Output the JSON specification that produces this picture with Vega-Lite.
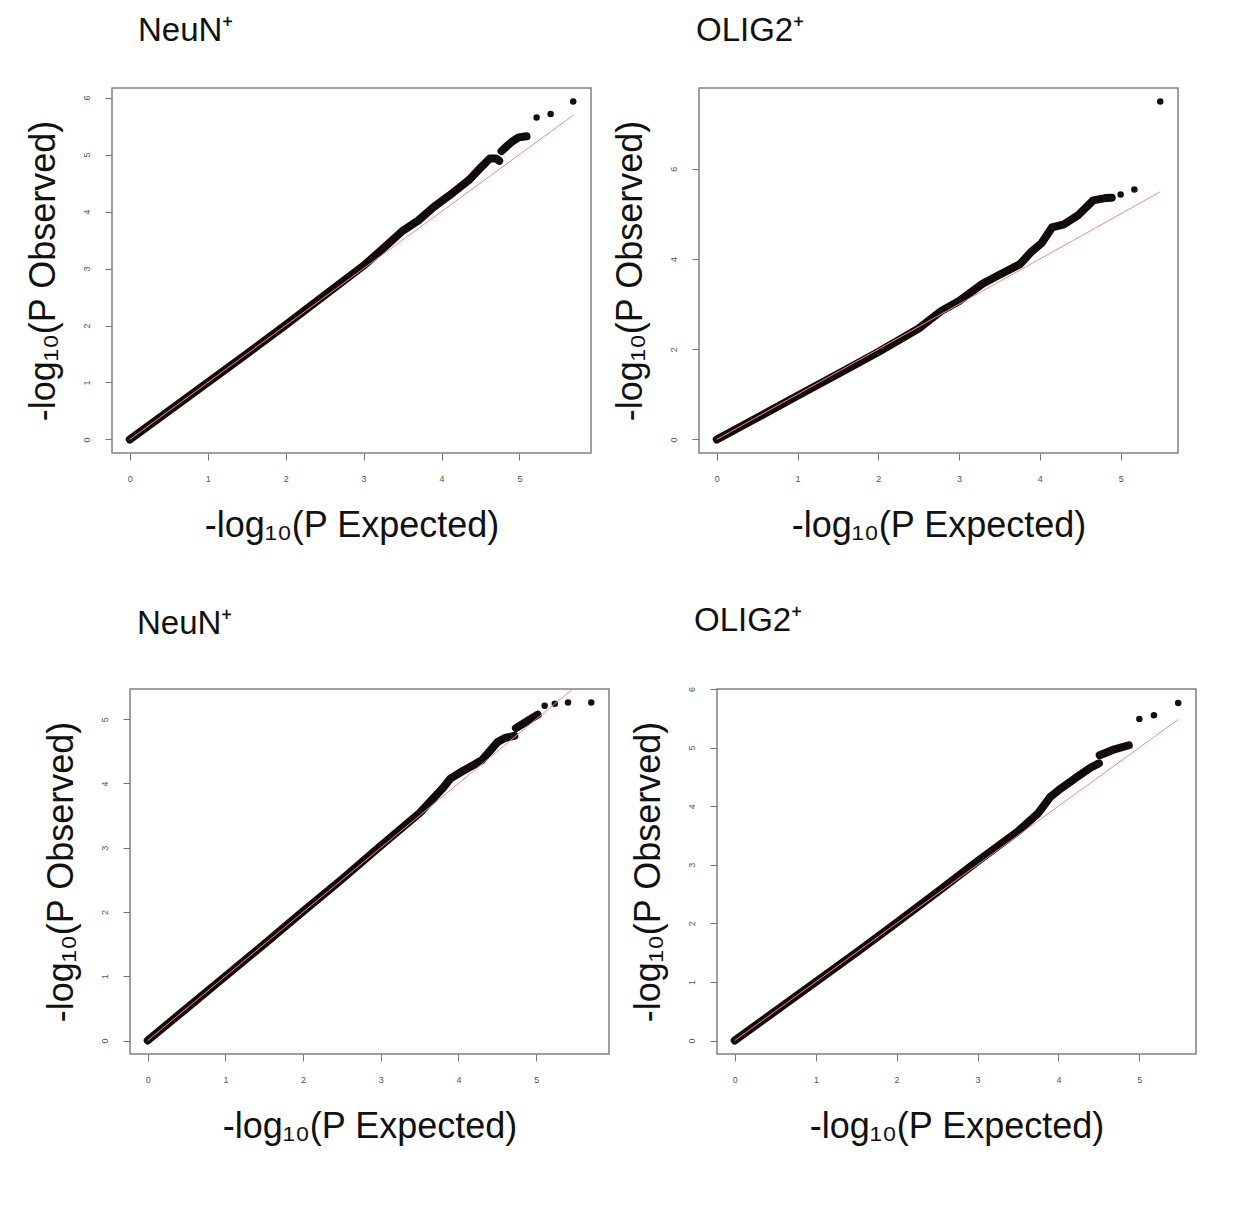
{
  "$schema": "https://vega.github.io/schema/vega-lite/v6.json",
  "background": "white",
  "padding": {"left": 4, "top": 14, "right": 5, "bottom": 5},
  "config": {
    "font": "Liberation Sans",
    "view": {"stroke": "#808080", "strokeWidth": 1.5},
    "axis": {"domain": false, "grid": false, "tickColor": "#777777", "tickSize": 7, "tickWidth": 1, "labelColor": "#555555", "labelFontSize": 9, "labelPadding": 14, "labelFont": "Liberation Sans", "titleFont": "Liberation Sans", "titleFontSize": 36, "titleFontWeight": "normal", "titleColor": "#111111", "titlePadding": 22},
    "axisX": {"titlePadding": 25},
    "axisY": {"labelAngle": 270, "titlePadding": 20},
    "title": {"font": "Liberation Sans", "fontSize": 33, "fontWeight": "normal", "color": "#111111", "anchor": "start", "frame": "group"}
  },
  "datasets": {
    "p1": [
      {"k": "b", "s": 1, "x": 0, "y": 0}, {"k": "b", "s": 1, "x": 0.5, "y": 0.5}, {"k": "b", "s": 1, "x": 1.0, "y": 1.0}, {"k": "b", "s": 1, "x": 1.5, "y": 1.5}, {"k": "b", "s": 1, "x": 2.0, "y": 2.01}, {"k": "b", "s": 1, "x": 2.5, "y": 2.53}, {"k": "b", "s": 1, "x": 3.0, "y": 3.05}, {"k": "b", "s": 1, "x": 3.25, "y": 3.35}, {"k": "b", "s": 1, "x": 3.5, "y": 3.66}, {"k": "b", "s": 1, "x": 3.7, "y": 3.84}, {"k": "b", "s": 1, "x": 3.9, "y": 4.08}, {"k": "b", "s": 1, "x": 4.1, "y": 4.28}, {"k": "b", "s": 1, "x": 4.35, "y": 4.55}, {"k": "b", "s": 1, "x": 4.51, "y": 4.78}, {"k": "b", "s": 1, "x": 4.62, "y": 4.93}, {"k": "b", "s": 1, "x": 4.7, "y": 4.93}, {"k": "b", "s": 1, "x": 4.74, "y": 4.89},
      {"k": "b", "s": 2, "x": 4.77, "y": 5.06}, {"k": "b", "s": 2, "x": 4.84, "y": 5.15}, {"k": "b", "s": 2, "x": 4.9, "y": 5.22}, {"k": "b", "s": 2, "x": 4.99, "y": 5.3}, {"k": "b", "s": 2, "x": 5.09, "y": 5.32},
      {"k": "p", "s": 3, "x": 5.22, "y": 5.65}, {"k": "p", "s": 3, "x": 5.4, "y": 5.71}, {"k": "p", "s": 3, "x": 5.69, "y": 5.93},
      {"k": "r", "s": 0, "x": 0, "y": 0}, {"k": "r", "s": 0, "x": 5.69, "y": 5.69}
    ],
    "p2": [
      {"k": "b", "s": 1, "x": 0, "y": 0}, {"k": "b", "s": 1, "x": 0.5, "y": 0.48}, {"k": "b", "s": 1, "x": 1.0, "y": 0.97}, {"k": "b", "s": 1, "x": 1.5, "y": 1.45}, {"k": "b", "s": 1, "x": 2.0, "y": 1.94}, {"k": "b", "s": 1, "x": 2.5, "y": 2.46}, {"k": "b", "s": 1, "x": 2.78, "y": 2.85}, {"k": "b", "s": 1, "x": 3.0, "y": 3.07}, {"k": "b", "s": 1, "x": 3.29, "y": 3.45}, {"k": "b", "s": 1, "x": 3.5, "y": 3.65}, {"k": "b", "s": 1, "x": 3.75, "y": 3.88}, {"k": "b", "s": 1, "x": 3.9, "y": 4.17}, {"k": "b", "s": 1, "x": 4.02, "y": 4.35}, {"k": "b", "s": 1, "x": 4.15, "y": 4.7}, {"k": "b", "s": 1, "x": 4.3, "y": 4.77}, {"k": "b", "s": 1, "x": 4.48, "y": 4.98}, {"k": "b", "s": 1, "x": 4.66, "y": 5.3}, {"k": "b", "s": 1, "x": 4.81, "y": 5.35}, {"k": "b", "s": 1, "x": 4.89, "y": 5.36},
      {"k": "p", "s": 3, "x": 5.0, "y": 5.43}, {"k": "p", "s": 3, "x": 5.17, "y": 5.54}, {"k": "p", "s": 3, "x": 5.49, "y": 7.49},
      {"k": "r", "s": 0, "x": 0, "y": 0}, {"k": "r", "s": 0, "x": 5.49, "y": 5.49}
    ],
    "p3": [
      {"k": "b", "s": 1, "x": 0, "y": 0}, {"k": "b", "s": 1, "x": 0.5, "y": 0.5}, {"k": "b", "s": 1, "x": 1.0, "y": 1.0}, {"k": "b", "s": 1, "x": 1.5, "y": 1.5}, {"k": "b", "s": 1, "x": 2.0, "y": 2.01}, {"k": "b", "s": 1, "x": 2.5, "y": 2.51}, {"k": "b", "s": 1, "x": 3.0, "y": 3.03}, {"k": "b", "s": 1, "x": 3.5, "y": 3.54}, {"k": "b", "s": 1, "x": 3.8, "y": 3.93}, {"k": "b", "s": 1, "x": 3.9, "y": 4.08}, {"k": "b", "s": 1, "x": 4.05, "y": 4.19}, {"k": "b", "s": 1, "x": 4.2, "y": 4.29}, {"k": "b", "s": 1, "x": 4.3, "y": 4.36}, {"k": "b", "s": 1, "x": 4.4, "y": 4.5}, {"k": "b", "s": 1, "x": 4.5, "y": 4.64}, {"k": "b", "s": 1, "x": 4.6, "y": 4.71}, {"k": "b", "s": 1, "x": 4.72, "y": 4.74},
      {"k": "b", "s": 2, "x": 4.74, "y": 4.86}, {"k": "b", "s": 2, "x": 4.87, "y": 4.96}, {"k": "b", "s": 2, "x": 5.02, "y": 5.07},
      {"k": "p", "s": 3, "x": 5.11, "y": 5.21}, {"k": "p", "s": 3, "x": 5.24, "y": 5.24}, {"k": "p", "s": 3, "x": 5.41, "y": 5.26}, {"k": "p", "s": 3, "x": 5.71, "y": 5.26},
      {"k": "r", "s": 0, "x": 0, "y": 0}, {"k": "r", "s": 0, "x": 5.71, "y": 5.71}
    ],
    "p4": [
      {"k": "b", "s": 1, "x": 0, "y": 0}, {"k": "b", "s": 1, "x": 0.5, "y": 0.5}, {"k": "b", "s": 1, "x": 1.0, "y": 1.0}, {"k": "b", "s": 1, "x": 1.5, "y": 1.5}, {"k": "b", "s": 1, "x": 2.0, "y": 2.01}, {"k": "b", "s": 1, "x": 2.5, "y": 2.53}, {"k": "b", "s": 1, "x": 3.0, "y": 3.06}, {"k": "b", "s": 1, "x": 3.5, "y": 3.57}, {"k": "b", "s": 1, "x": 3.75, "y": 3.88}, {"k": "b", "s": 1, "x": 3.9, "y": 4.16}, {"k": "b", "s": 1, "x": 4.0, "y": 4.27}, {"k": "b", "s": 1, "x": 4.2, "y": 4.47}, {"k": "b", "s": 1, "x": 4.4, "y": 4.66}, {"k": "b", "s": 1, "x": 4.5, "y": 4.73},
      {"k": "b", "s": 2, "x": 4.51, "y": 4.87}, {"k": "b", "s": 2, "x": 4.67, "y": 4.96}, {"k": "b", "s": 2, "x": 4.87, "y": 5.04},
      {"k": "p", "s": 3, "x": 5.0, "y": 5.49}, {"k": "p", "s": 3, "x": 5.18, "y": 5.55}, {"k": "p", "s": 3, "x": 5.48, "y": 5.76},
      {"k": "r", "s": 0, "x": 0, "y": 0}, {"k": "r", "s": 0, "x": 5.48, "y": 5.48}
    ]
  },
  "spacing": 60,
  "vconcat": [
    {
      "spacing": 19,
      "hconcat": [
        {
          "width": 1, "height": 1,
          "data": {"values": []},
          "mark": {"type": "point", "opacity": 0},
          "view": {"stroke": null}
        },
        {
          "width": 479, "height": 365,
          "title": {"text": "NeuN⁺", "dx": 26, "offset": 40},
          "data": {"name": "p1"},
          "encoding": {
            "x": {"field": "x", "type": "quantitative", "scale": {"domain": [-0.228, 5.918], "nice": false, "zero": false}, "axis": {"values": [0, 1, 2, 3, 4, 5]}, "title": "-log₁₀(P Expected)"},
            "y": {"field": "y", "type": "quantitative", "scale": {"domain": [-0.237, 6.167], "nice": false, "zero": false}, "axis": {"values": [0, 1, 2, 3, 4, 5, 6]}, "title": "-log₁₀(P Observed)"}
          },
          "layer": [
            {"transform": [{"filter": "datum.k == 'b'"}], "mark": {"type": "line", "strokeWidth": 8, "strokeCap": "round", "strokeJoin": "round", "color": "#140909", "clip": true}, "encoding": {"detail": {"field": "s"}}},
            {"transform": [{"filter": "datum.k != 'r'"}], "mark": {"type": "circle", "size": 42, "color": "#111111", "opacity": 1, "clip": true}, "encoding": {}},
            {"transform": [{"filter": "datum.k == 'r'"}], "mark": {"type": "line", "strokeWidth": 1, "color": "#ee8a8a", "clip": true}, "encoding": {}}
          ]
        },
        {
          "width": 479, "height": 365,
          "title": {"text": "OLIG2⁺", "dx": -3, "offset": 40},
          "data": {"name": "p2"},
          "encoding": {
            "x": {"field": "x", "type": "quantitative", "scale": {"domain": [-0.22, 5.71], "nice": false, "zero": false}, "axis": {"values": [0, 1, 2, 3, 4, 5]}, "title": "-log₁₀(P Expected)"},
            "y": {"field": "y", "type": "quantitative", "scale": {"domain": [-0.3, 7.79], "nice": false, "zero": false}, "axis": {"values": [0, 2, 4, 6]}, "title": "-log₁₀(P Observed)"}
          },
          "layer": [
            {"transform": [{"filter": "datum.k == 'b'"}], "mark": {"type": "line", "strokeWidth": 8, "strokeCap": "round", "strokeJoin": "round", "color": "#140909", "clip": true}, "encoding": {"detail": {"field": "s"}}},
            {"transform": [{"filter": "datum.k != 'r'"}], "mark": {"type": "circle", "size": 42, "color": "#111111", "opacity": 1, "clip": true}, "encoding": {}},
            {"transform": [{"filter": "datum.k == 'r'"}], "mark": {"type": "line", "strokeWidth": 1, "color": "#ee8a8a", "clip": true}, "encoding": {}}
          ]
        }
      ]
    },
    {
      "spacing": 19,
      "hconcat": [
        {
          "width": 19, "height": 1,
          "data": {"values": []},
          "mark": {"type": "point", "opacity": 0},
          "view": {"stroke": null}
        },
        {
          "width": 479, "height": 365,
          "title": {"text": "NeuN⁺", "dx": 7, "offset": 48},
          "data": {"name": "p3"},
          "encoding": {
            "x": {"field": "x", "type": "quantitative", "scale": {"domain": [-0.228, 5.938], "nice": false, "zero": false}, "axis": {"values": [0, 1, 2, 3, 4, 5]}, "title": "-log₁₀(P Expected)"},
            "y": {"field": "y", "type": "quantitative", "scale": {"domain": [-0.21, 5.47], "nice": false, "zero": false}, "axis": {"values": [0, 1, 2, 3, 4, 5]}, "title": "-log₁₀(P Observed)"}
          },
          "layer": [
            {"transform": [{"filter": "datum.k == 'b'"}], "mark": {"type": "line", "strokeWidth": 8, "strokeCap": "round", "strokeJoin": "round", "color": "#140909", "clip": true}, "encoding": {"detail": {"field": "s"}}},
            {"transform": [{"filter": "datum.k != 'r'"}], "mark": {"type": "circle", "size": 42, "color": "#111111", "opacity": 1, "clip": true}, "encoding": {}},
            {"transform": [{"filter": "datum.k == 'r'"}], "mark": {"type": "line", "strokeWidth": 1, "color": "#ee8a8a", "clip": true}, "encoding": {}}
          ]
        },
        {
          "width": 479, "height": 365,
          "title": {"text": "OLIG2⁺", "dx": -23, "offset": 48},
          "data": {"name": "p4"},
          "encoding": {
            "x": {"field": "x", "type": "quantitative", "scale": {"domain": [-0.219, 5.7], "nice": false, "zero": false}, "axis": {"values": [0, 1, 2, 3, 4, 5]}, "title": "-log₁₀(P Expected)"},
            "y": {"field": "y", "type": "quantitative", "scale": {"domain": [-0.23, 6.0], "nice": false, "zero": false}, "axis": {"values": [0, 1, 2, 3, 4, 5, 6]}, "title": "-log₁₀(P Observed)"}
          },
          "layer": [
            {"transform": [{"filter": "datum.k == 'b'"}], "mark": {"type": "line", "strokeWidth": 8, "strokeCap": "round", "strokeJoin": "round", "color": "#140909", "clip": true}, "encoding": {"detail": {"field": "s"}}},
            {"transform": [{"filter": "datum.k != 'r'"}], "mark": {"type": "circle", "size": 42, "color": "#111111", "opacity": 1, "clip": true}, "encoding": {}},
            {"transform": [{"filter": "datum.k == 'r'"}], "mark": {"type": "line", "strokeWidth": 1, "color": "#ee8a8a", "clip": true}, "encoding": {}}
          ]
        }
      ]
    }
  ]
}
